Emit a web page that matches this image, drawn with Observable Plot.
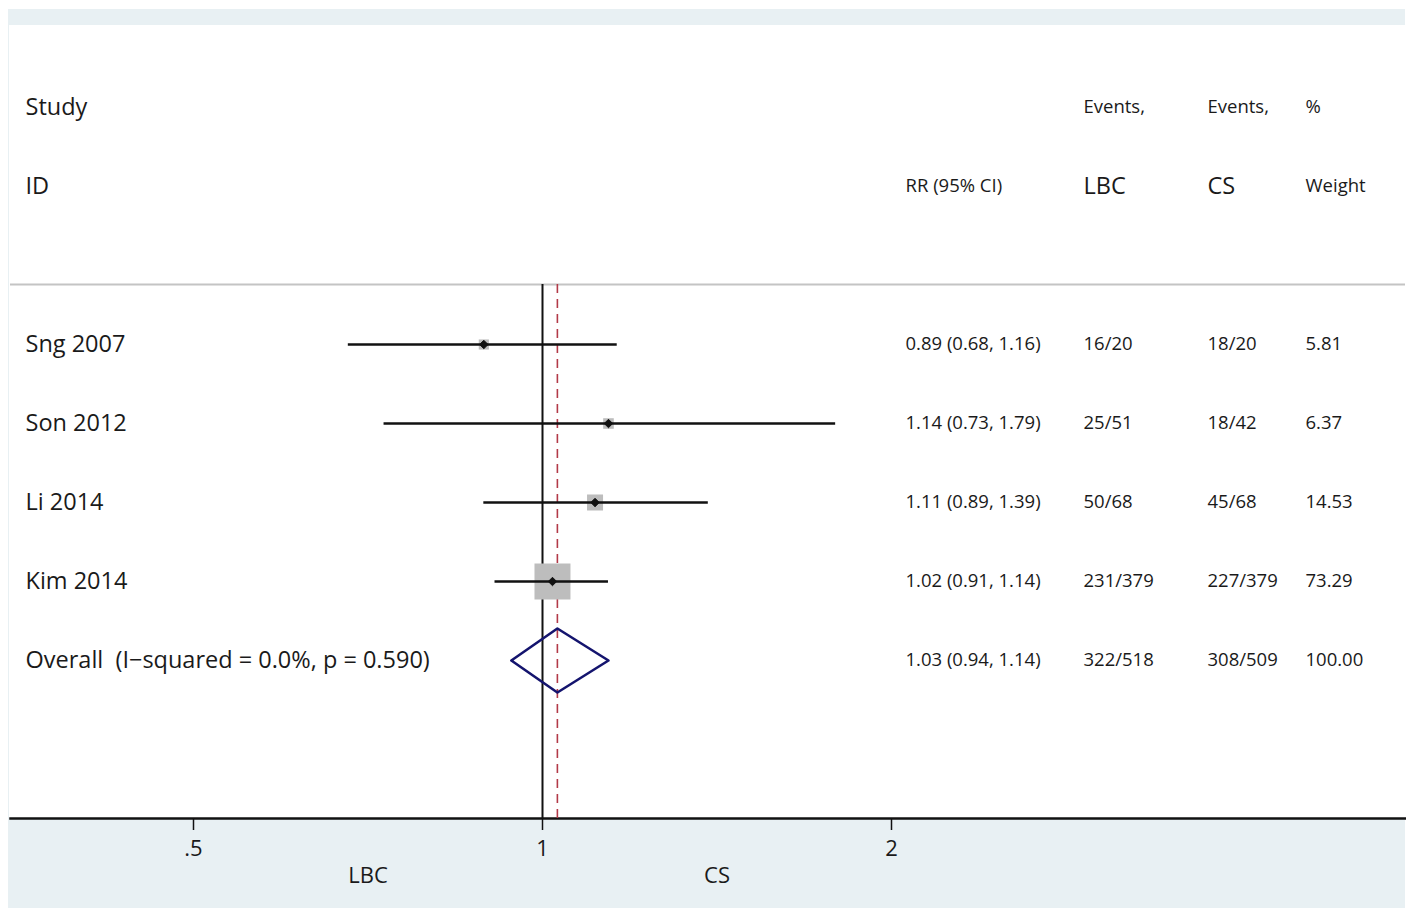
<!DOCTYPE html>
<html>
<head>
<meta charset="utf-8">
<script src="https://cdn.jsdelivr.net/npm/d3@7"></script>
<script src="https://cdn.jsdelivr.net/npm/@observablehq/plot@0.6"></script>
<style>
  html, body { margin: 0; padding: 0; background: #ffffff; }
  #wrap { position: relative; width: 1406px; height: 909px; overflow: hidden; }
  #outer { position: absolute; left: 8px; top: 9px; width: 1397px; height: 899px; background: #e8f0f3; }
  #inner { position: absolute; left: 9px; top: 25px; width: 1396px; height: 793px; background: #ffffff; }
  #chart { position: absolute; left: 0; top: 0; }
  #chart svg { background: transparent; overflow: visible; }
</style>
</head>
<body>
<div id="wrap">
  <div id="outer"></div>
  <div id="inner"></div>
  <div id="chart"></div>
</div>
<script>
// ---- data ----
const studies = ["Sng 2007", "Son 2012", "Li 2014", "Kim 2014"];
const rr = [0.89, 1.14, 1.11, 1.02];
const lo = [0.68, 0.73, 0.89, 0.91];
const hi = [1.16, 1.79, 1.39, 1.14];
const rrText = ["0.89 (0.68, 1.16)", "1.14 (0.73, 1.79)", "1.11 (0.89, 1.39)", "1.02 (0.91, 1.14)"];
const eventsLBC = ["16/20", "25/51", "50/68", "231/379"];
const eventsCS = ["18/20", "18/42", "45/68", "227/379"];
const weights = [5.81, 6.37, 14.53, 73.29];
const weightText = ["5.81", "6.37", "14.53", "73.29"];

const overallLabel = "Overall  (I\u2212squared = 0.0%, p = 0.590)";
const overallRR = 1.03, overallLo = 0.94, overallHi = 1.14;
const overallText = "1.03 (0.94, 1.14)";
const overallLBC = "322/518", overallCS = "308/509", overallWeight = "100.00";

const ticks = [0.5, 1, 2];
const tickLabels = [".5", "1", "2"];
const sideLabels = ["LBC", "CS"];

// ---- table ----
const rows = studies.map((s, i) => ({
  i, study: s, rr: rr[i], lo: lo[i], hi: hi[i],
  rrText: rrText[i], lbc: eventsLBC[i], cs: eventsCS[i], w: weights[i], wText: weightText[i]
}));
const oi = studies.length;
const allRows = [...rows, {i: oi, study: overallLabel, rrText: overallText, lbc: overallLBC, cs: overallCS, wText: overallWeight}];
const dh = 0.405;
const diamond = [
  {x: overallLo, y: oi}, {x: overallRR, y: oi - dh}, {x: overallHi, y: oi},
  {x: overallRR, y: oi + dh}, {x: overallLo, y: oi}
];

const FONT = "Open Sans";
const big = 23.5, small = 18.5;
const ink = "#1a1a1a";
const mL = 10;
const colRR = 905 - mL, colLBC = 1083 - mL, colCS = 1207 - mL, colW = 1305 - mL, colLabel = 25 - mL;
const sepY = -0.76, axisY = 6;

const txt = (data, opts) => Plot.text(data, {fontFamily: FONT, fill: ink, textAnchor: "start", frameAnchor: "left", ...opts});

const chart = Plot.plot({
  width: 1406,
  height: 909,
  marginLeft: mL, marginRight: 1, marginTop: 0, marginBottom: 91,
  style: {fontFamily: FONT, background: "transparent", overflow: "visible"},
  x: {type: "log", domain: [0.5, 2], range: [193, 891], axis: null},
  y: {type: "linear", domain: [-3, 4], range: [107, 660], axis: null},
  r: {type: "sqrt", domain: [0, 73.29], range: [0, 20.3]},
  marks: [
    // separator
    Plot.ruleY([sepY], {stroke: "#c4c4c4", strokeWidth: 2}),
    // bottom axis line
    Plot.frame({anchor: "bottom", stroke: "#111", strokeWidth: 2.5}),
    // null line and overall line
    Plot.ruleX([1], {y1: sepY, y2: axisY, stroke: "#111", strokeWidth: 2}),
    Plot.ruleX([overallRR], {y1: sepY, y2: axisY, stroke: "#b23a48", strokeWidth: 1.6, strokeDasharray: "9,6"}),
    // weight squares
    Plot.dot(rows, {x: "rr", y: "i", r: "w", symbol: "square", fill: "#bdbdbd", stroke: "none"}),
    // CIs
    Plot.ruleY(rows, {y: "i", x1: "lo", x2: "hi", stroke: "#111", strokeWidth: 2.6}),
    // point estimates
    Plot.dot(rows, {x: "rr", y: "i", r: 3.8, symbol: "diamond2", fill: "#111", stroke: "#111", strokeWidth: 1}),
    // overall diamond
    Plot.line(diamond, {x: "x", y: "y", stroke: "#14146e", strokeWidth: 2.6, curve: "linear"}),
    // axis
    Plot.axisX(ticks, {anchor: "bottom", tickSize: 12, tickPadding: 10, tickFormat: (d) => tickLabels[ticks.indexOf(d)], fontSize: 22, fontFamily: FONT, fill: ink, stroke: "#111", strokeWidth: 1.5, label: null}),
    Plot.text(sideLabels, {x: [Math.SQRT1_2, Math.SQRT2], text: (d) => d, frameAnchor: "bottom", lineAnchor: "middle", dy: 57, fontSize: 22, fontFamily: FONT, fill: ink}),
    // headers
    txt(["Study"], {y: [-3], text: (d) => d, dx: colLabel, fontSize: big}),
    txt(["ID"], {y: [-2], text: (d) => d, dx: colLabel, fontSize: big}),
    txt(["RR (95% CI)"], {y: [-2], text: (d) => d, dx: colRR, fontSize: small}),
    txt(["Events,"], {y: [-3], text: (d) => d, dx: colLBC, fontSize: small}),
    txt(["LBC"], {y: [-2], text: (d) => d, dx: colLBC, fontSize: big}),
    txt(["Events,"], {y: [-3], text: (d) => d, dx: colCS, fontSize: small}),
    txt(["CS"], {y: [-2], text: (d) => d, dx: colCS, fontSize: big}),
    txt(["%"], {y: [-3], text: (d) => d, dx: colW, fontSize: small}),
    txt(["Weight"], {y: [-2], text: (d) => d, dx: colW, fontSize: small}),
    // rows
    txt(allRows, {y: "i", text: "study", dx: colLabel, fontSize: big}),
    txt(allRows, {y: "i", text: "rrText", dx: colRR, fontSize: small}),
    txt(allRows, {y: "i", text: "lbc", dx: colLBC, fontSize: small}),
    txt(allRows, {y: "i", text: "cs", dx: colCS, fontSize: small}),
    txt(allRows, {y: "i", text: "wText", dx: colW, fontSize: small})
  ]
});
document.getElementById("chart").appendChild(chart);
</script>
</body>
</html>
